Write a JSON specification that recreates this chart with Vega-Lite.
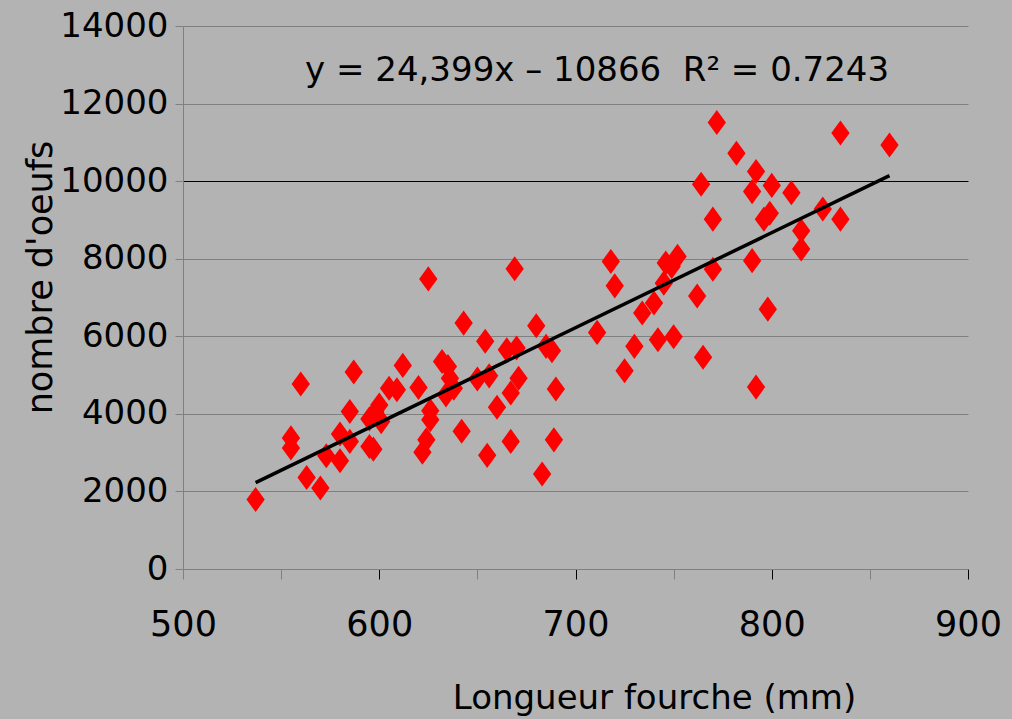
{
  "$schema": "https://vega.github.io/schema/vega-lite/v6.json",
  "width": 785,
  "height": 543,
  "autosize": "none",
  "padding": {"left": 183, "top": 26, "right": 44, "bottom": 150},
  "background": "#b3b3b3",
  "config": {"view": {"stroke": null}, "font": "DejaVu Sans"},
  "layer": [
    {
      "data": {"values": [
        {"length": 537, "eggs": 1790}, {"length": 555, "eggs": 3380}, {"length": 555, "eggs": 3120},
        {"length": 560, "eggs": 4770}, {"length": 563, "eggs": 2360}, {"length": 570, "eggs": 2090},
        {"length": 573, "eggs": 2920}, {"length": 580, "eggs": 2790}, {"length": 580, "eggs": 3480},
        {"length": 585, "eggs": 4060}, {"length": 585, "eggs": 3290}, {"length": 587, "eggs": 5080},
        {"length": 595, "eggs": 3870}, {"length": 598, "eggs": 4050}, {"length": 600, "eggs": 4230},
        {"length": 601, "eggs": 3800}, {"length": 595, "eggs": 3160}, {"length": 597, "eggs": 3090},
        {"length": 605, "eggs": 4660}, {"length": 609, "eggs": 4620}, {"length": 612, "eggs": 5250},
        {"length": 620, "eggs": 4680}, {"length": 622, "eggs": 3010}, {"length": 624, "eggs": 3330},
        {"length": 626, "eggs": 3850}, {"length": 626, "eggs": 4080}, {"length": 625, "eggs": 7480},
        {"length": 632, "eggs": 5350}, {"length": 635, "eggs": 5220}, {"length": 636, "eggs": 4920},
        {"length": 638, "eggs": 4660}, {"length": 634, "eggs": 4490}, {"length": 643, "eggs": 6340},
        {"length": 642, "eggs": 3550}, {"length": 650, "eggs": 4900}, {"length": 654, "eggs": 5870},
        {"length": 655, "eggs": 2930}, {"length": 656, "eggs": 4980}, {"length": 660, "eggs": 4170},
        {"length": 665, "eggs": 5650}, {"length": 670, "eggs": 5700}, {"length": 669, "eggs": 7740},
        {"length": 671, "eggs": 4920}, {"length": 667, "eggs": 4540}, {"length": 667, "eggs": 3290},
        {"length": 680, "eggs": 6270}, {"length": 683, "eggs": 2450}, {"length": 685, "eggs": 5740},
        {"length": 688, "eggs": 5630}, {"length": 689, "eggs": 3330}, {"length": 690, "eggs": 4640},
        {"length": 711, "eggs": 6100}, {"length": 718, "eggs": 7930}, {"length": 720, "eggs": 7300},
        {"length": 725, "eggs": 5110}, {"length": 730, "eggs": 5740}, {"length": 734, "eggs": 6600},
        {"length": 740, "eggs": 6860}, {"length": 742, "eggs": 5910}, {"length": 750, "eggs": 5990},
        {"length": 745, "eggs": 7370}, {"length": 746, "eggs": 7890}, {"length": 749, "eggs": 7800},
        {"length": 752, "eggs": 8060}, {"length": 762, "eggs": 7040}, {"length": 765, "eggs": 5460},
        {"length": 764, "eggs": 9920}, {"length": 770, "eggs": 7730}, {"length": 770, "eggs": 9020},
        {"length": 772, "eggs": 11510}, {"length": 782, "eggs": 10720}, {"length": 790, "eggs": 9730},
        {"length": 790, "eggs": 7950}, {"length": 792, "eggs": 4690}, {"length": 792, "eggs": 10250},
        {"length": 796, "eggs": 9020}, {"length": 799, "eggs": 9170}, {"length": 798, "eggs": 6700},
        {"length": 800, "eggs": 9890}, {"length": 810, "eggs": 9700}, {"length": 815, "eggs": 8720},
        {"length": 815, "eggs": 8250}, {"length": 826, "eggs": 9280}, {"length": 835, "eggs": 9020},
        {"length": 835, "eggs": 11240}, {"length": 860, "eggs": 10930}
      ]},
      "layer": [
        {
          "mark": {"type": "point", "shape": "M0,-1.37L1,0L0,1.37L-1,0Z", "filled": true, "color": "#ff0000", "opacity": 1, "size": 335, "strokeWidth": 0},
          "encoding": {
            "x": {
              "field": "length", "type": "quantitative",
              "scale": {"domain": [500, 900], "nice": false, "zero": false},
              "axis": {
                "title": "Longueur fourche (mm)",
                "values": [500, 550, 600, 650, 700, 750, 800, 850, 900],
                "labelExpr": "datum.value % 100 === 0 ? datum.label : ''",
                "grid": false,
                "domainColor": "#808080",
                "tickColor": {"condition": {"test": "datum.value % 100 === 0 && datum.value > 500", "value": "black"}, "value": "#808080"},
                "tickSize": 10,
                "labelFontSize": 35,
                "labelColor": "black",
                "labelBaseline": "alphabetic",
                "labelPadding": 56,
                "labelFlush": false,
                "labelOverlap": false,
                "titleFontSize": 34,
                "titleFontWeight": "normal",
                "titleColor": "black",
                "titleX": 471,
                "titleY": 139,
                "titleBaseline": "alphabetic",
                "titleAlign": "center"
              }
            },
            "y": {
              "field": "eggs", "type": "quantitative",
              "scale": {"domain": [0, 14000], "nice": false},
              "axis": {
                "title": "nombre d'oeufs",
                "values": [0, 2000, 4000, 6000, 8000, 10000, 12000, 14000],
                "format": "d",
                "grid": true,
                "gridColor": {"condition": {"test": "datum.value === 10000", "value": "black"}, "value": "#808080"},
                "gridWidth": 1,
                "gridOpacity": 1,
                "domainColor": "#808080",
                "tickColor": "#808080",
                "tickSize": 8,
                "labelFontSize": 34,
                "labelPadding": 7,
                "labelColor": "black",
                "labelFlush": false,
                "labelOverlap": false,
                "titleFontSize": 35,
                "titleFontWeight": "normal",
                "titleColor": "black",
                "titleAngle": 270,
                "titleX": -132,
                "titleY": 251,
                "titleBaseline": "alphabetic",
                "titleAlign": "center"
              }
            }
          }
        },
        {
          "transform": [{"regression": "eggs", "on": "length"}],
          "mark": {"type": "line", "color": "black", "strokeWidth": 3.5},
          "encoding": {
            "x": {"field": "length", "type": "quantitative"},
            "y": {"field": "eggs", "type": "quantitative"}
          }
        }
      ]
    },
    {
      "data": {"values": [{"label": "y = 24,399x – 10866\u00a0 R² = 0.7243", "lx": 711, "ly": 12583}]},
      "mark": {"type": "text", "fontSize": 34, "align": "center", "baseline": "alphabetic", "color": "black"},
      "encoding": {
        "x": {"field": "lx", "type": "quantitative"},
        "y": {"field": "ly", "type": "quantitative"},
        "text": {"field": "label"}
      }
    }
  ]
}
